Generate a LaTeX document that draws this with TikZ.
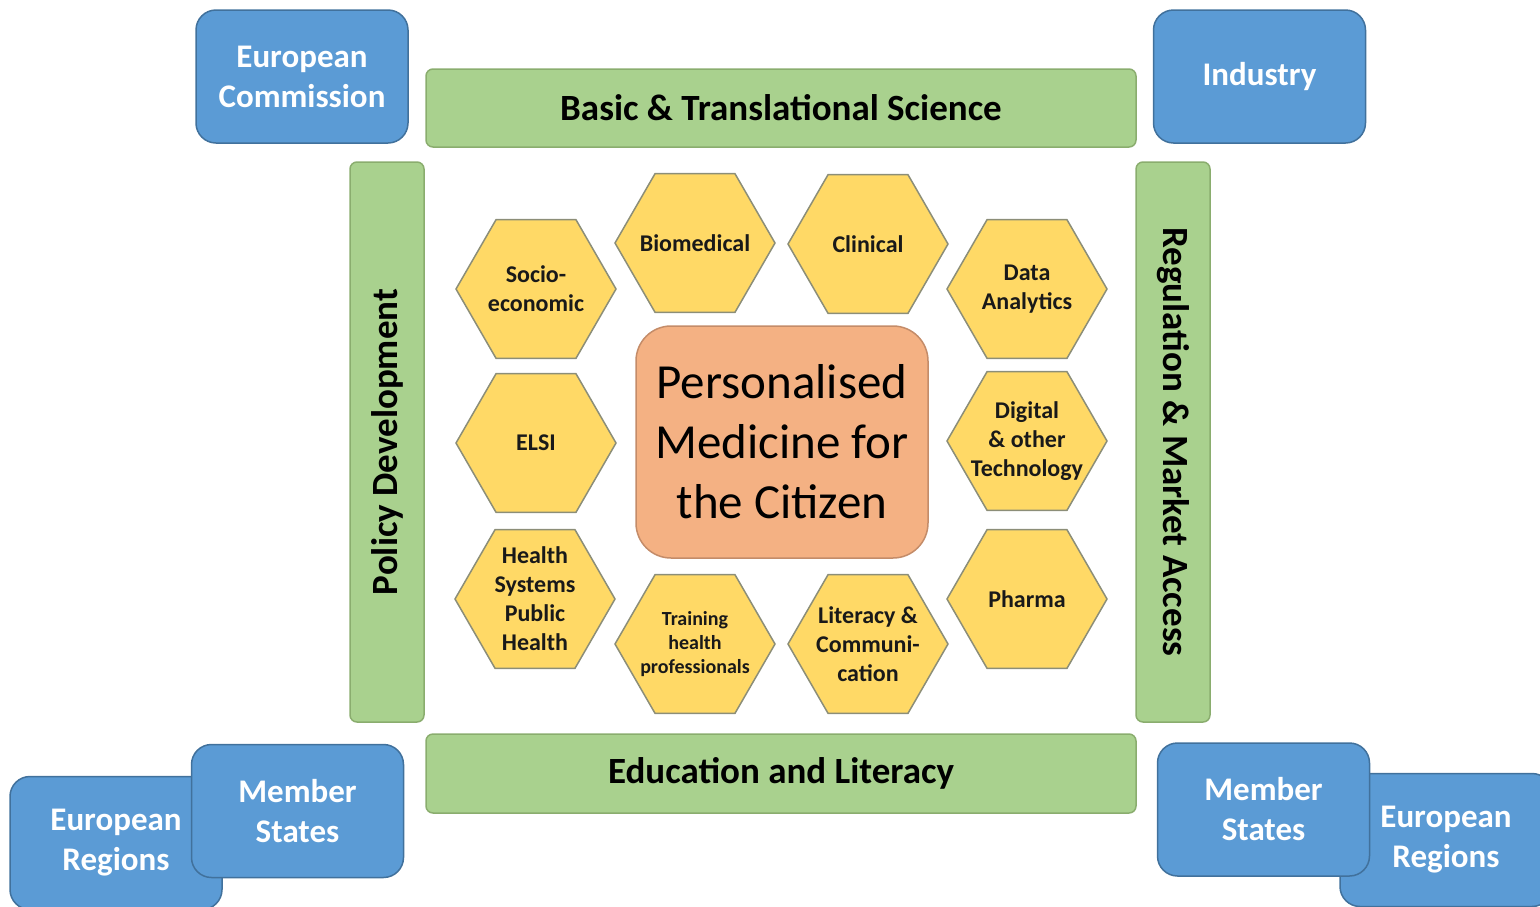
\documentclass[tikz,border=0pt]{standalone}
\usepackage{fontspec}
\setmainfont{Carlito}
\usetikzlibrary{positioning,shapes.geometric}
\definecolor{actorfill}{HTML}{5B9BD5}
\definecolor{actorline}{HTML}{41719C}
\definecolor{pillarfill}{HTML}{A9D18E}
\definecolor{pillarline}{HTML}{8AAD6E}
\definecolor{hexfill}{HTML}{FFD966}
\definecolor{hexline}{HTML}{8C8E78}
\definecolor{corefill}{HTML}{F4B183}
\definecolor{coreline}{HTML}{C48C69}

\begin{document}
\begin{tikzpicture}[x=1pt, y=-1pt,
        actor/.style={rectangle, rounded corners=20pt, draw=actorline, fill=actorfill, line width=1.5pt, minimum width=212pt, minimum height=133pt, text=white, align=center, font=\fontsize{33}{40}\selectfont\bfseries},
        pillar/.style={rectangle, rounded corners=7pt, draw=pillarline, fill=pillarfill, line width=1.5pt, font=\fontsize{37}{44}\selectfont\bfseries},
        hexa/.style={regular polygon, regular polygon sides=6, minimum size=160pt, inner sep=0pt, draw=hexline, fill=hexfill, line width=1.5pt},
        hexlbl/.style={align=center, text=black!90, font=\fontsize{24}{29}\selectfont\bfseries},
        core/.style={rectangle, rounded corners=35pt, draw=coreline, fill=corefill, line width=1.5pt, minimum width=292pt, minimum height=232pt, align=center, font=\fontsize{49}{60}\selectfont},
    ]
    \useasboundingbox (0,0) rectangle (1540,906);

    \node[actor] (commission) at (302,76.5)   {European\\Commission};
    \node[actor] (industry)   at (1259.5,76.5) {Industry};
    \node[actor] (regionsL)   at (116,843)    {European\\Regions};
    \node[actor] (statesL)    at (297.5,811)  {Member\\States};
    \node[actor] (regionsR)   at (1446,840)   {European\\Regions};
    \node[actor] (statesR)    at (1263.5,809.5) {Member\\States};

    \node[pillar, minimum width=710pt, minimum height=78pt] (science)    at (781,108)   {Basic \& Translational Science};
    \node[pillar, minimum width=710pt, minimum height=79pt] (education)  at (781,773.5) {Education and Literacy};
    \node[pillar, minimum width=560pt, minimum height=74pt, rotate=90]  (policy)     at (387,442)  {Policy Development};
    \node[pillar, minimum width=560pt, minimum height=74pt, rotate=-90] (regulation) at (1173,442) {Regulation \& Market Access};

    \node[core] (citizen) at (782,442) {Personalised\\Medicine for\\the Citizen};

    \node[hexa, label={[hexlbl]center:{Socio-\\economic}}]              (socio)    at (536,289)  {};
    \node[hexa, label={[hexlbl]center:Biomedical}]                      (biomed)   at (695,243)  {};
    \node[hexa, label={[hexlbl]center:Clinical}]                        (clinical) at (868,244)  {};
    \node[hexa, label={[hexlbl]center:{Data\\Analytics}}]               (data)     at (1027,289) {};
    \node[hexa, label={[hexlbl]center:ELSI}]                            (elsi)     at (536,443)  {};
    \node[hexa, label={[hexlbl]center:{Digital\\\& other\\Technology}}] (digital)  at (1027,441) {};
    \node[hexa, label={[hexlbl]center:{Health\\Systems\\Public\\Health}}] (health) at (535,599)  {};
    \node[hexa, label={[hexlbl, font=\fontsize{20}{24}\selectfont\bfseries]center:{Training\\health\\professionals}}] (training) at (695,644) {};
    \node[hexa, label={[hexlbl]center:{Literacy \&\\Communi-\\cation}}] (literacy) at (868,644)  {};
    \node[hexa, label={[hexlbl]center:Pharma}]                          (pharma)   at (1027,599) {};
\end{tikzpicture}
\end{document}
